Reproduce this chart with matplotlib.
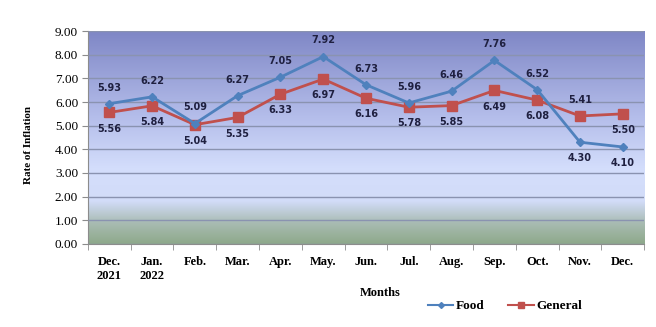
import numpy as np
import matplotlib.pyplot as plt
from matplotlib.colors import LinearSegmentedColormap
from matplotlib.lines import Line2D

months = ["Dec.\n2021", "Jan.\n2022", "Feb.", "Mar.", "Apr.", "May.", "Jun.",
          "Jul.", "Aug.", "Sep.", "Oct.", "Nov.", "Dec."]
food = [5.93, 6.22, 5.09, 6.27, 7.05, 7.92, 6.73, 5.96, 6.46, 7.76, 6.52, 4.30, 4.10]
general = [5.56, 5.84, 5.04, 5.35, 6.33, 6.97, 6.16, 5.78, 5.85, 6.49, 6.08, 5.41, 5.50]
# label placement: +1 above the marker, -1 below
food_pos = [1, 1, 1, 1, 1, 1, 1, 1, 1, 1, 1, -1, -1]
gen_pos = [-1, -1, -1, -1, -1, -1, -1, -1, -1, -1, -1, 1, -1]

fig = plt.figure(figsize=(6.56, 3.27), dpi=100)
ax = fig.add_axes([0.134, 0.254, 0.848, 0.651])

# background gradient (bottom -> top)
bg = LinearSegmentedColormap.from_list("bg", [
    (0.0, "#8ea98a"),
    (0.10, "#a9bcb4"),
    (0.20, "#d2dcf8"),
    (0.35, "#d4defc"),
    (0.60, "#b4bdea"),
    (1.0, "#7f87c6"),
])
ax.imshow(np.linspace(0, 1, 256).reshape(-1, 1), cmap=bg, aspect="auto",
          extent=[-0.5, 12.5, 0, 9], origin="lower", zorder=0)

x = np.arange(len(months))
ax.set_xlim(-0.5, 12.5)
ax.set_ylim(0, 9)
ax.set_yticks(np.arange(0, 10, 1))
ax.yaxis.grid(True, color="#8a93b0", lw=1)
ax.set_axisbelow(False)
for gl in ax.get_ygridlines():
    gl.set_zorder(1)

ax.plot(x, general, color="#c0504d", lw=2, marker="s", ms=6.5, zorder=3)
ax.plot(x, food, color="#4f81bd", lw=2, marker="D", ms=4, zorder=4)

lab_kw = dict(ha="center", fontsize=7, fontweight="bold", color="#1f2040",
              family="DejaVu Sans", zorder=5)
for i in range(len(x)):
    ax.annotate(f"{food[i]:.2f}", (x[i], food[i]), xytext=(0, 8 * food_pos[i]),
                textcoords="offset points",
                va="bottom" if food_pos[i] > 0 else "top", **lab_kw)
    ax.annotate(f"{general[i]:.2f}", (x[i], general[i]), xytext=(0, 8 * gen_pos[i]),
                textcoords="offset points",
                va="bottom" if gen_pos[i] > 0 else "top", **lab_kw)

ax.set_xticks(x)
ax.set_xticklabels(months)
ax.set_xticks(np.arange(-0.5, 13, 1), minor=True)
ax.tick_params(axis="x", which="major", length=0, pad=9)
ax.tick_params(axis="x", which="minor", length=4, color="#8c8c8c")
ax.tick_params(axis="y", length=4, color="#8c8c8c", pad=3)
ax.set_yticklabels([f"{v:.2f}" for v in np.arange(0, 10, 1)])
for t in ax.get_xticklabels():
    t.set_family("Liberation Serif")
    t.set_fontweight("bold")
    t.set_fontsize(9)
for t in ax.get_yticklabels():
    t.set_family("Liberation Serif")
    t.set_fontsize(9.5)

for side in ["top", "right"]:
    ax.spines[side].set_visible(False)
ax.spines["left"].set_color("#8c8c8c")
ax.spines["bottom"].set_color("#8c8c8c")

fig.text(0.044, 0.557, "Rate of Inflation", rotation=90, ha="center", va="center",
         family="Liberation Serif", fontweight="bold", fontsize=8)
fig.text(0.58, 0.105, "Months", ha="center", va="center",
         family="Liberation Serif", fontweight="bold", fontsize=9)

handles = [Line2D([], [], color="#4f81bd", lw=1.5, marker="D", ms=3),
           Line2D([], [], color="#c0504d", lw=1.5, marker="s", ms=5)]
fig.legend(handles, ["Food", "General"], loc="center", bbox_to_anchor=(0.77, 0.064),
           ncol=2, frameon=False, handlelength=1.9, handletextpad=0.2,
           columnspacing=1.8,
           prop={"family": "Liberation Serif", "weight": "bold", "size": 9.5})

fig.savefig("out.png", dpi=100)
